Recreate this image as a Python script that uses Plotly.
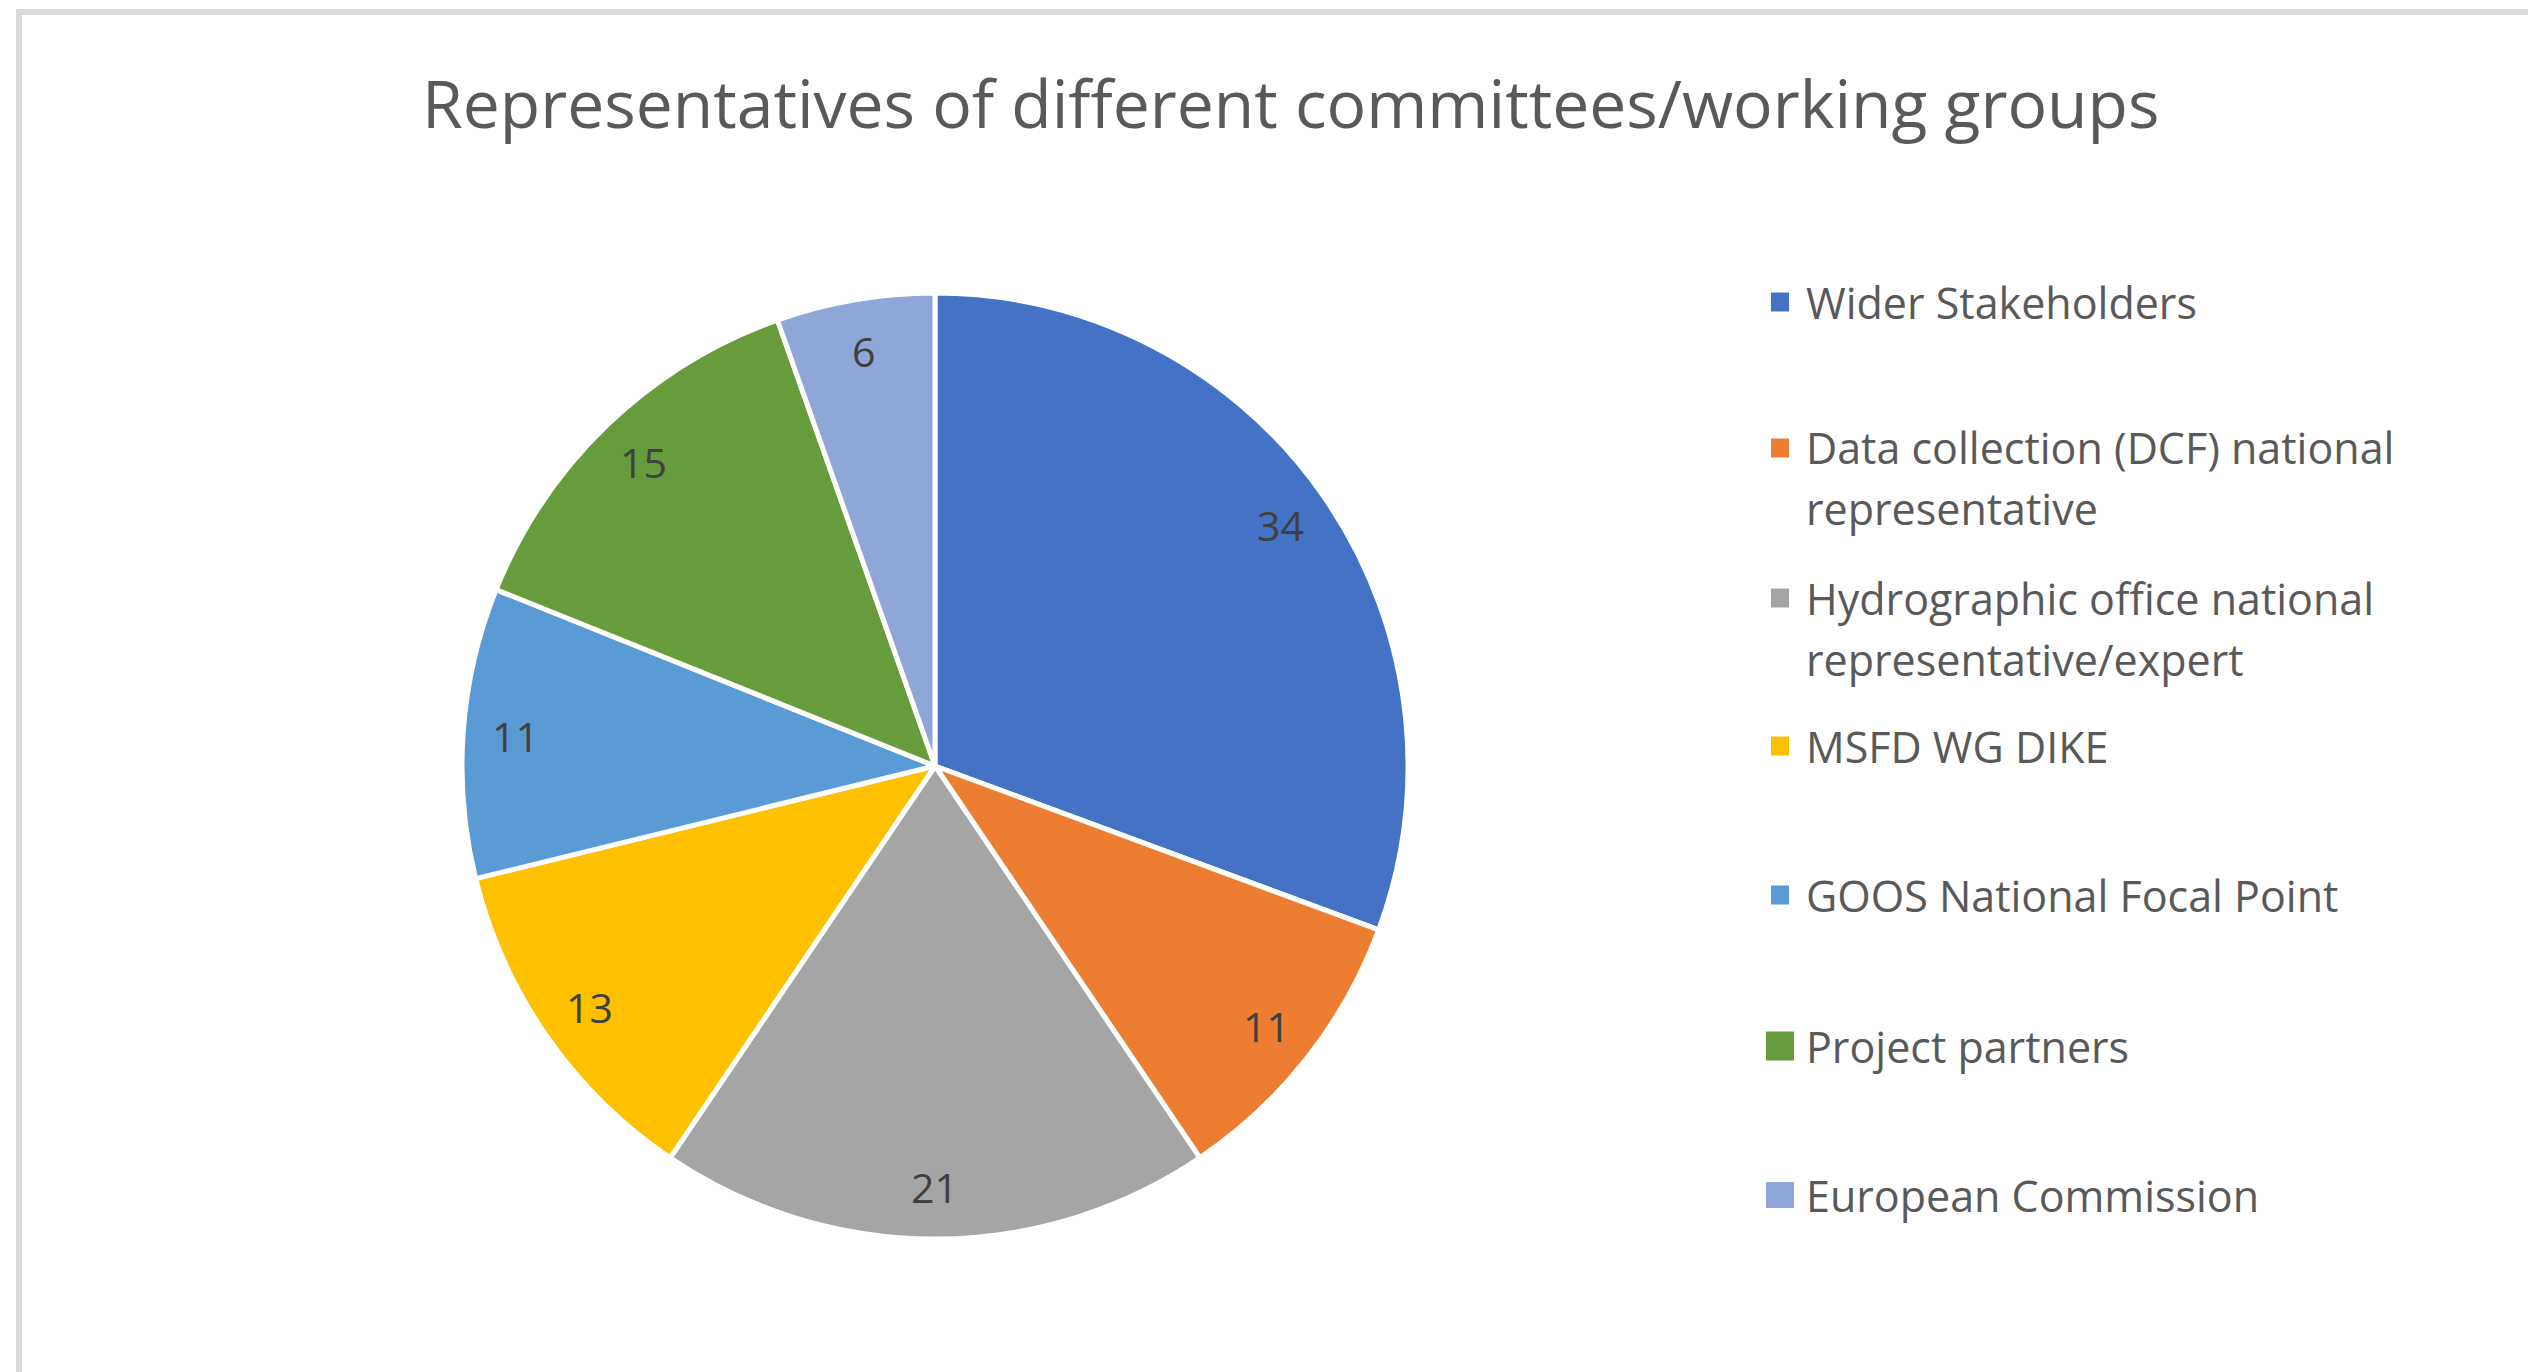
import math
import plotly.graph_objects as go

# Chart data
categories = [
    "Wider Stakeholders",
    "Data collection (DCF) national<br>representative",
    "Hydrographic office national<br>representative/expert",
    "MSFD WG DIKE",
    "GOOS National Focal Point",
    "Project partners",
    "European Commission",
]
counts = [34, 11, 21, 13, 11, 15, 6]
colors = ["#4472C4", "#ED7D31", "#A5A5A5", "#FFC000", "#5B9BD5", "#679C3D", "#8FA6D8"]

# Legend layout (pixel positions on the canvas): centre of first text line
legend_y = [302, 448, 598, 746, 895, 1046, 1195]
legend_box = [(18, 19), (18, 19), (18, 19), (18, 19), (18, 19), (28, 29), (28, 26)]
LINE_GAP = 61

W, H = 2528, 1372
FONT = "Open Sans"

# Pie geometry in pixels
CX, CY, R = 935, 766, 473
LABEL_R = 0.89 * R

fig = go.Figure()
fig.add_trace(go.Pie(
    labels=categories,
    values=counts,
    sort=False,
    direction="clockwise",
    rotation=0,
    marker=dict(colors=colors, line=dict(color="white", width=5)),
    textinfo="none",
    domain=dict(x=[(CX - R) / W, (CX + R) / W], y=[1 - (CY + R) / H, 1 - (CY - R) / H]),
    showlegend=False,
    hoverinfo="label+value",
))

shapes = [
    # chart frame (top and left edges)
    dict(type="rect", xref="paper", yref="paper", x0=16 / W, x1=1, y0=1 - 15 / H, y1=1 - 9 / H,
         fillcolor="#DADADA", line=dict(width=0), layer="below"),
    dict(type="rect", xref="paper", yref="paper", x0=16 / W, x1=22 / W, y0=0, y1=1 - 9 / H,
         fillcolor="#DADADA", line=dict(width=0), layer="below"),
]
annotations = [
    dict(text="Representatives of different committees/working groups", xref="paper", yref="paper",
         x=1290 / W, y=1 - 102 / H, xanchor="center", yanchor="middle", showarrow=False,
         font=dict(family=FONT, size=66, color="#595959")),
]

# Value labels near the rim of each slice, at the slice's mid-angle
total = sum(counts)
cum = 0
for v in counts:
    theta = 2 * math.pi * (cum + v / 2) / total
    cum += v
    px = CX + LABEL_R * math.sin(theta)
    py = CY - LABEL_R * math.cos(theta)
    annotations.append(dict(text=str(v), xref="paper", yref="paper", x=px / W, y=1 - py / H,
                            xanchor="center", yanchor="middle", showarrow=False,
                            font=dict(family=FONT, size=41, color="#404040")))

# Custom legend: colour squares plus wrapped names
for name, col, yc, (bw, bh) in zip(categories, colors, legend_y, legend_box):
    shapes.append(dict(type="rect", xref="paper", yref="paper",
                       x0=(1780 - bw / 2) / W, x1=(1780 + bw / 2) / W,
                       y0=1 - (yc + bh / 2) / H, y1=1 - (yc - bh / 2) / H,
                       fillcolor=col, line=dict(width=0)))
    for i, line in enumerate(name.split("<br>")):
        annotations.append(dict(text=line, xref="paper", yref="paper", x=1804 / W,
                                y=1 - (yc + i * LINE_GAP) / H,
                                xanchor="left", yanchor="middle", align="left", showarrow=False,
                                font=dict(family=FONT, size=43, color="#595959")))

fig.update_layout(
    width=W, height=H,
    margin=dict(l=0, r=0, t=0, b=0),
    paper_bgcolor="white",
    plot_bgcolor="white",
    shapes=shapes,
    annotations=annotations,
)

fig.write_html("out.html")
